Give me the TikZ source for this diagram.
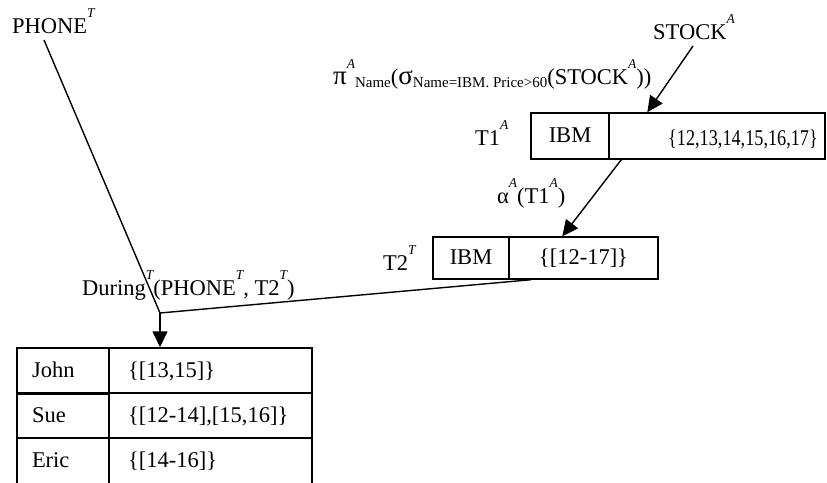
\documentclass[tikz,border=0pt]{standalone}
\usepackage{fontspec}
\setmainfont{Liberation Serif}
\usetikzlibrary{arrows.meta,calc}
\newcommand\sups[1]{\raisebox{16pt}{\fontsize{13.5}{13.5}\selectfont\itshape #1}}
\newcommand\subs[1]{\raisebox{-3pt}{\fontsize{15}{15}\selectfont #1}}
\newcommand\grk[1]{{\fontsize{27}{27}\selectfont #1}}
\tikzset{
  lbl/.style={inner sep=0pt, anchor=base west, font=\fontsize{22.5}{26}\selectfont},
  cell/.style={draw, line width=1.4pt, inner xsep=0pt, inner ysep=0pt, text height=16pt, text depth=3pt, font=\fontsize{22.5}{26}\selectfont},
  conn/.style={line width=1.4pt},
  arr/.style={line width=1.4pt, -{Triangle[length=16pt,width=15pt]}}
}
\begin{document}
\begin{tikzpicture}[x=1pt,y=-1pt]
\useasboundingbox (0,0) rectangle (827,482);
% labels
\node[lbl] (phone) at (12,33) {PHONE\sups{T}};
\node[lbl] (stock) at (653,39) {STOCK\sups{A}};
\node[lbl] (pi) at (333,84) {\grk{π}\sups{A}\subs{Name}(\grk{σ}\subs{Name=IBM. Price>60}(STOCK\sups{A}))};
\node[lbl] (t1lbl) at (475,145) {T1\sups{A}};
\node[lbl] (alpha) at (497,203) {α\sups{A}(T1\sups{A})};
\node[lbl] (t2lbl) at (383,270) {T2\sups{T}};
\node[lbl] (during) at (82,295) {During\sups{T}(PHONE\sups{T}, T2\sups{T})};
% T1 box
\node[cell, minimum width=78pt, minimum height=46pt] (t1l) at (570,136) {IBM};
\node[cell, minimum width=216pt, minimum height=46pt] (t1r) at (717,136) {};
\node[lbl] (t1set) at (668,145) {\scalebox{0.81}[1]{\{12,13,14,15,16,17\}}};
% T2 box
\node[cell, minimum width=76pt, minimum height=42pt] (t2l) at (471,258) {IBM};
\node[cell, minimum width=149pt, minimum height=42pt] (t2r) at (583.5,258) {\{[12-17]\}};
% result table
\tikzset{lc/.style={cell, minimum width=92pt, minimum height=45pt, text width=62pt, inner xsep=15pt, align=left},
         rc/.style={cell, minimum width=203pt, minimum height=45pt, text width=165pt, inner xsep=19pt, align=left}}
\node[lc] (r1l) at (63,370.5) {John};
\node[rc] (r1r) at (210.5,370.5) {\{[13,15]\}};
\node[lc] (r2l) at (63,415.5) {Sue};
\node[rc] (r2r) at (210.5,415.5) {\{[12-14],[15,16]\}};
\node[lc, minimum height=50pt] (r3l) at (63,463) {\raisebox{2.5pt}{Eric}};
\node[rc, minimum height=50pt] (r3r) at (210.5,463) {\raisebox{2.5pt}{\{[14-16]\}}};
\draw[line width=2.4pt] (r1l.south west) -- (r1l.south east);
% connectors
\coordinate (pout) at (44,40);
\coordinate (J) at (160,313);
\coordinate (sout) at (693,46);
\coordinate (t1in) at ($(t1r.north west)+(39,0)$);
\coordinate (t1out) at ($(t1r.south west)+(13,0)$);
\coordinate (t2in) at ($(t2r.north west)+(54,0)$);
\coordinate (t2out) at ($(t2r.south west)+(23,0)$);
\coordinate (tin) at (r1r.north west -| J);
\draw[conn] (pout) -- (J);
\draw[conn] (t2out) -- (J);
\draw[arr] (J) -- (tin);
\draw[arr] (sout) -- (t1in);
\draw[arr] (t1out) -- (t2in);
\end{tikzpicture}
\end{document}
